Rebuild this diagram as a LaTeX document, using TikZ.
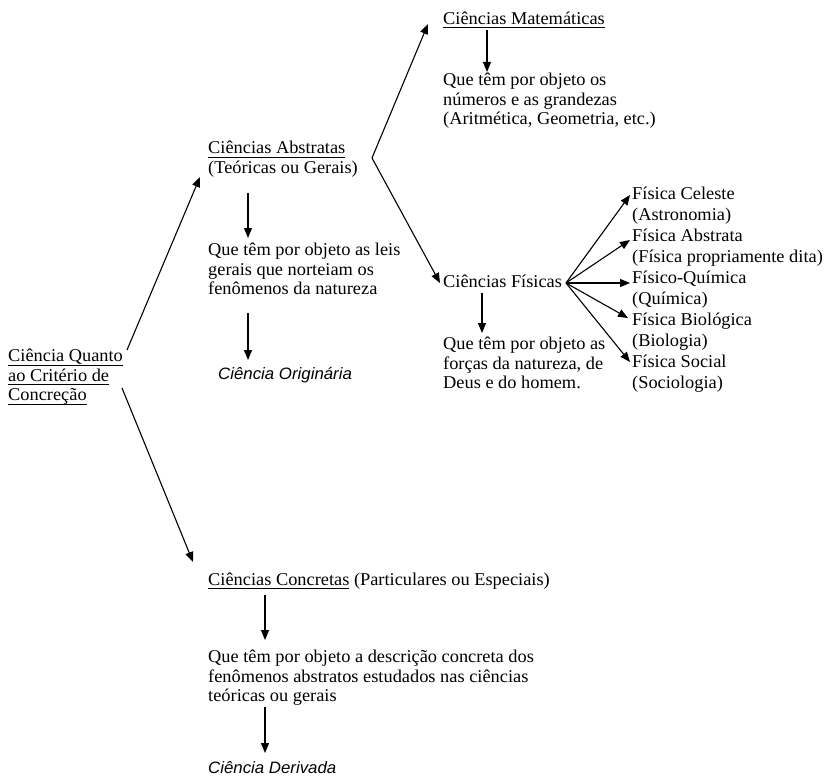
\documentclass[tikz,border=0pt]{standalone}
\usepackage{fontspec}
\setmainfont[FakeStretch=1.02]{Liberation Serif}
\newfontfamily\bodyserif[FakeStretch=1.02]{Liberation Serif}
\newfontfamily\labelit[FakeStretch=1.02]{Liberation Sans}
\usetikzlibrary{arrows.meta}
% underline drawn at a fixed depth below the baseline
\newcommand{\uln}[1]{\setbox0=\hbox{#1}\rlap{\rule[-3.5pt]{\wd0}{0.9pt}}\box0\relax}

\begin{document}
\begin{tikzpicture}[x=1pt,y=-1pt,
  lbl/.style={anchor=north west, inner sep=0pt, align=left,
    font=\bodyserif\fontsize{18}{19.5}\selectfont,
    execute at begin node={\rule{0pt}{14pt}}, yshift=8.8pt},
  wide/.style={lbl, font=\bodyserif\fontsize{18}{21}\selectfont},
  slanted/.style={lbl, font=\labelit\itshape\fontsize{16.5}{19.5}\selectfont},
  arr/.style={line width=1.1pt, -{Triangle[length=10pt,width=8pt]}}]

\useasboundingbox[fill=white] (0,0) rectangle (825,781);

% root
\node[lbl] (root) at (8,358) {\uln{Ciência Quanto}\\\uln{ao Critério de}\\\uln{Concreção}};

% abstract sciences
\node[lbl] (abs) at (208,150) {\uln{Ciências Abstratas}\\(Teóricas ou Gerais)};
\node[lbl] (absdesc) at (208,252) {Que têm por objeto as leis\\gerais que norteiam os\\fenômenos da natureza};
\node[slanted] (orig) at (218,374) {Ciência Originária};

% mathematical sciences
\node[lbl] (mat) at (443,19) {\uln{Ciências Matemáticas}};
\node[lbl] (matdesc) at (443,82) {Que têm por objeto os\\números e as grandezas\\(Aritmética, Geometria, etc.)};

% physical sciences
\node[lbl] (fis) at (443,282) {Ciências Físicas};
\node[lbl] (fisdesc) at (443,346) {Que têm por objeto as\\forças da natureza, de\\Deus e do homem.};

\node[wide] (f1) at (632,196) {Física Celeste\\(Astronomia)};
\node[wide] (f2) at (632,238) {Física Abstrata\\(Física propriamente dita)};
\node[wide] (f3) at (632,280) {Físico-Química\\(Química)};
\node[wide] (f4) at (632,322) {Física Biológica\\(Biologia)};
\node[wide] (f5) at (632,364) {Física Social\\(Sociologia)};

% concrete sciences
\node[lbl] (conc) at (208,580) {\uln{Ciências Concretas} (Particulares ou Especiais)};
\node[lbl] (concdesc) at (208,659) {Que têm por objeto a descrição concreta dos\\fenômenos abstratos estudados nas ciências\\teóricas ou gerais};
\node[slanted] (deriv) at (208,768) {Ciência Derivada};

% connector end points
\coordinate (rootup) at (127,350);
\coordinate (rootdn) at (122,388);
\coordinate (abstip) at (200,177);
\coordinate (conctip) at (193,562);
\coordinate (fork) at (372,158);
\coordinate (mattip) at (428,24);
\coordinate (fistip) at (440,283);
\coordinate (fan) at (566,283);
\coordinate (t1) at (630,195);
\coordinate (t2) at (630,240);
\coordinate (t3) at (630,283);
\coordinate (t4) at (628,318);
\coordinate (t5) at (630,362);
\coordinate (absA) at (248,193);   \coordinate (absB) at (248,238);
\coordinate (absC) at (248,313);   \coordinate (absD) at (248,360);
\coordinate (matA) at (487,30);    \coordinate (matB) at (487,72);
\coordinate (fisA) at (482,293);   \coordinate (fisB) at (482,333);
\coordinate (concA) at (265,595);  \coordinate (concB) at (265,640);
\coordinate (concC) at (265,707);  \coordinate (concD) at (265,753);

% connectors
\draw[arr] (rootup) -- (abstip);
\draw[arr] (rootdn) -- (conctip);
\draw[arr] (fork) -- (mattip);
\draw[arr] (fork) -- (fistip);
\foreach \t in {t1,t2,t3,t4,t5} \draw[arr] (fan) -- (\t);

\draw[arr] (absA) -- (absB);
\draw[arr] (absC) -- (absD);
\draw[arr] (matA) -- (matB);
\draw[arr] (fisA) -- (fisB);
\draw[arr] (concA) -- (concB);
\draw[arr] (concC) -- (concD);
\end{tikzpicture}
\end{document}
